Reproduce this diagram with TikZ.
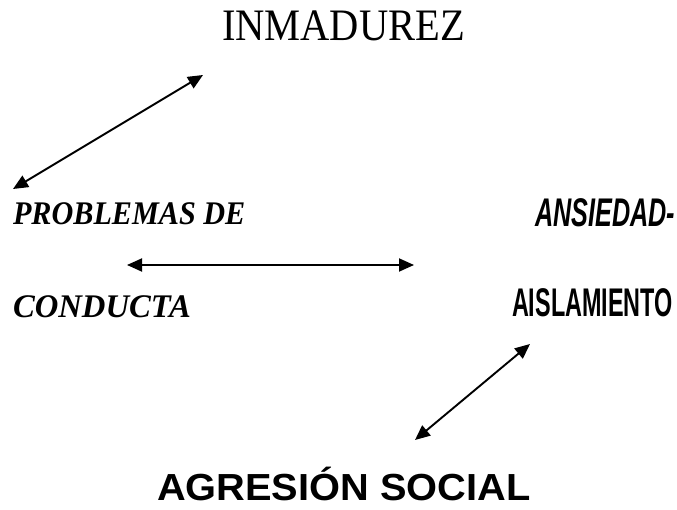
\documentclass[tikz,border=0pt]{standalone}
\usepackage{fontspec}
\setmainfont{Liberation Serif}
\newfontfamily\brushfont{Liberation Sans}
\newfontfamily\boldsans{Liberation Sans}
\usetikzlibrary{arrows.meta}
\begin{document}
\begin{tikzpicture}[x=1pt,y=-1pt,
  lbl/.style={anchor=base west,inner sep=0pt,outer sep=0pt},
  dbl/.style={line width=1.9pt,{Triangle[length=15pt,width=13pt]}-{Triangle[length=15pt,width=13pt]}}]
\useasboundingbox (0,0) rectangle (677,510);
\node[lbl] (inm) at (222,41) {\fontsize{45}{45}\selectfont\scalebox{0.9}[1]{INMADUREZ}};
\node[lbl] (prob) at (13,225) {\fontsize{33}{33}\selectfont\bfseries\itshape\scalebox{0.915}[1]{PROBLEMAS DE}};
\node[lbl] (cond) at (13,318) {\fontsize{33}{33}\selectfont\bfseries\itshape\scalebox{0.99}[1]{CONDUCTA}};
\node[lbl] (ans) at (535,227) {\brushfont\bfseries\itshape\fontsize{40}{40}\selectfont\scalebox{0.63}[1]{ANSIEDAD-}};
\node[lbl] (ais) at (512,317) {\brushfont\bfseries\fontsize{40}{40}\selectfont\scalebox{0.585}[1]{AISLAMIENTO}};
\node[lbl] (agr) at (157,500) {\boldsans\bfseries\fontsize{37.7}{37.7}\selectfont\scalebox{1.055}[1]{AGRESIÓN SOCIAL}};
\coordinate (a1) at (13,189);
\coordinate (a2) at (203,75);
\coordinate (b1) at (127,265);
\coordinate (b2) at (414,265);
\coordinate (c1) at (530,344);
\coordinate (c2) at (415,440);
\draw[dbl] (a1) -- (a2);
\draw[dbl] (b1) -- (b2);
\draw[dbl] (c1) -- (c2);
\end{tikzpicture}
\end{document}
